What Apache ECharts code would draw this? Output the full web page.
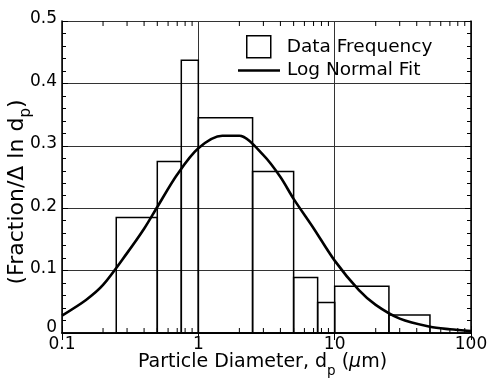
<!DOCTYPE html>
<html>
<head>
<meta charset="utf-8">
<script src="https://cdn.jsdelivr.net/npm/echarts@6/dist/echarts.min.js"></script>
<style>
html,body{margin:0;padding:0;background:#fff;}
#chart{width:488px;height:380px;}
</style>
</head>
<body>
<div id="chart"></div>
<script>
// Histogram bins (particle diameter, µm) and frequency values
var binLow  = [0.25, 0.5, 0.75, 1, 2.5, 5, 7.5, 10, 25];
var binHigh = [0.5, 0.75, 1, 2.5, 5, 7.5, 10, 25, 50];
var freq    = [0.185, 0.275, 0.437, 0.345, 0.259, 0.089, 0.049, 0.075, 0.029];

// Log normal fit curve
var fitD = [0.1, 0.15, 0.2, 0.3, 0.4, 0.5, 0.7, 1.0, 1.5, 2, 3, 4, 5, 7, 10, 15, 20, 30, 50, 70, 100];
var fitV = [0.028, 0.053, 0.077, 0.128, 0.167, 0.202, 0.254, 0.296, 0.316, 0.316, 0.285, 0.250, 0.215, 0.168, 0.116, 0.069, 0.045, 0.023, 0.010, 0.006, 0.003];

// Axis ticks
var yTicks = [0, 0.1, 0.2, 0.3, 0.4, 0.5];
var xMinorTicks = [0.2,0.3,0.4,0.5,0.6,0.7,0.8,0.9, 2,3,4,5,6,7,8,9, 20,30,40,50,60,70,80,90];

var FONT = '"DejaVu Sans", "Liberation Sans", Arial, sans-serif';
var chart = echarts.init(document.getElementById('chart'));

var barData = binLow.map(function (lo, i) { return [lo, binHigh[i], freq[i]]; });
var fitData = fitD.map(function (d, i) { return [d, fitV[i]]; });
var minorData = xMinorTicks.map(function (v) { return [v, 0]; });

var frameLine = { show: true, lineStyle: { color: '#000', width: 1.5 } };
var gridLine = { show: true, lineStyle: { color: '#333', width: 1 } };

chart.setOption({
  animation: false,
  backgroundColor: '#fff',
  grid: { left: 62, right: 17, top: 21, bottom: 47, containLabel: false, outerBoundsMode: 'none' },
  legend: [
    {
      left: 241, top: 30,
      orient: 'vertical',
      itemWidth: 24, itemHeight: 22,
      data: [{ name: 'Data Frequency', icon: 'rect',
               itemStyle: { color: 'rgba(0,0,0,0)', borderColor: '#000', borderWidth: 1.5 } }],
      textStyle: { fontFamily: FONT, fontSize: 18.5, color: '#000', padding: [0, 0, 9, 11] }
    },
    {
      left: 233, top: 56,
      orient: 'vertical',
      itemWidth: 42, itemHeight: 2.5,
      data: [{ name: 'Log Normal Fit', icon: 'rect', itemStyle: { color: '#000' } }],
      textStyle: { fontFamily: FONT, fontSize: 18.5, color: '#000', padding: [0, 0, 8, 2] }
    }
  ],
  xAxis: [
    {
      type: 'log', logBase: 10, min: 0.1, max: 100, position: 'bottom',
      axisLine: frameLine,
      axisTick: { show: true, inside: true, length: 7, lineStyle: { color: '#000' } },
      splitLine: gridLine,
      axisLabel: { fontFamily: FONT, fontSize: 17, color: '#000', margin: 3,
                   formatter: function (v) { return String(v); } },
      name: 'Particle Diameter, d{sub|p} ({i|μ}m)',
      nameLocation: 'middle', nameGap: 13, nameMoveOverlap: false,
      nameTextStyle: {
        fontFamily: FONT, fontSize: 19, color: '#000', lineHeight: 32, padding: [0, 8, 0, 0],
        rich: {
          sub: { fontFamily: FONT, fontSize: 13.5, color: '#000', lineHeight: 12, verticalAlign: 'bottom' },
          i: { fontFamily: FONT, fontSize: 19, color: '#000', fontStyle: 'italic', lineHeight: 32 }
        }
      }
    },
    {
      type: 'log', logBase: 10, min: 0.1, max: 100, position: 'top',
      axisLine: frameLine,
      axisTick: { show: true, inside: true, length: 7, lineStyle: { color: '#000' } },
      splitLine: { show: false },
      axisLabel: { show: false }
    }
  ],
  yAxis: [
    {
      type: 'value', min: 0, max: 0.5, interval: 0.1, position: 'left',
      axisLine: frameLine,
      axisTick: { show: true, inside: true, length: 6, lineStyle: { color: '#000' } },
      minorTick: { show: true, splitNumber: 5, length: 4, lineStyle: { color: '#000' } },
      splitLine: gridLine,
      axisLabel: {
        fontFamily: FONT, fontSize: 17, color: '#000', margin: 5,
        formatter: function (v) { return v === 0 ? '{z|0}' : '{n|' + v.toFixed(1) + '}'; },
        rich: {
          z: { fontFamily: FONT, fontSize: 17, color: '#000', padding: [0, 0, 10, 0] },
          n: { fontFamily: FONT, fontSize: 17, color: '#000', padding: [0, 0, 4, 0] }
        }
      },
      name: '(Fraction/Δ ln d{sub|p})',
      nameLocation: 'middle', nameGap: 28, nameMoveOverlap: false,
      nameTextStyle: {
        fontFamily: FONT, fontSize: 22, color: '#000', lineHeight: 34, padding: [0, 30, 0, 0],
        rich: {
          sub: { fontFamily: FONT, fontSize: 15, color: '#000', lineHeight: 13, verticalAlign: 'bottom' }
        }
      }
    },
    {
      type: 'value', min: 0, max: 0.5, interval: 0.1, position: 'right',
      axisLine: frameLine,
      axisTick: { show: true, inside: true, length: 6, lineStyle: { color: '#000' } },
      minorTick: { show: true, splitNumber: 5, length: 4, lineStyle: { color: '#000' } },
      splitLine: { show: false },
      axisLabel: { show: false }
    }
  ],
  series: [
    {
      name: 'Data Frequency',
      type: 'custom',
      xAxisIndex: 0, yAxisIndex: 0,
      data: barData,
      encode: { x: [0, 1], y: 2 },
      z: 3,
      renderItem: function (params, api) {
        var p0 = api.coord([api.value(0), api.value(2)]);
        var p1 = api.coord([api.value(1), 0]);
        return {
          type: 'rect',
          shape: { x: p0[0], y: p0[1], width: p1[0] - p0[0], height: p1[1] - p0[1] },
          style: { fill: 'none', stroke: '#000', lineWidth: 1.5 }
        };
      }
    },
    {
      name: 'minorTicks',
      type: 'custom',
      xAxisIndex: 0, yAxisIndex: 0,
      data: minorData,
      encode: { x: 0, y: 1 },
      silent: true,
      z: 2,
      renderItem: function (params, api) {
        var b = api.coord([api.value(0), 0]);
        var t = api.coord([api.value(0), 0.5]);
        return {
          type: 'group',
          children: [
            { type: 'line', shape: { x1: b[0], y1: b[1], x2: b[0], y2: b[1] - 5 }, style: { stroke: '#000', lineWidth: 1 } },
            { type: 'line', shape: { x1: t[0], y1: t[1], x2: t[0], y2: t[1] + 5 }, style: { stroke: '#000', lineWidth: 1 } }
          ]
        };
      }
    },
    {
      name: 'Log Normal Fit',
      type: 'line',
      xAxisIndex: 0, yAxisIndex: 0,
      data: fitData,
      smooth: 0.3,
      symbol: 'none',
      color: '#000',
      lineStyle: { color: '#000', width: 2.6 },
      z: 4
    }
  ]
});
</script>
</body>
</html>
